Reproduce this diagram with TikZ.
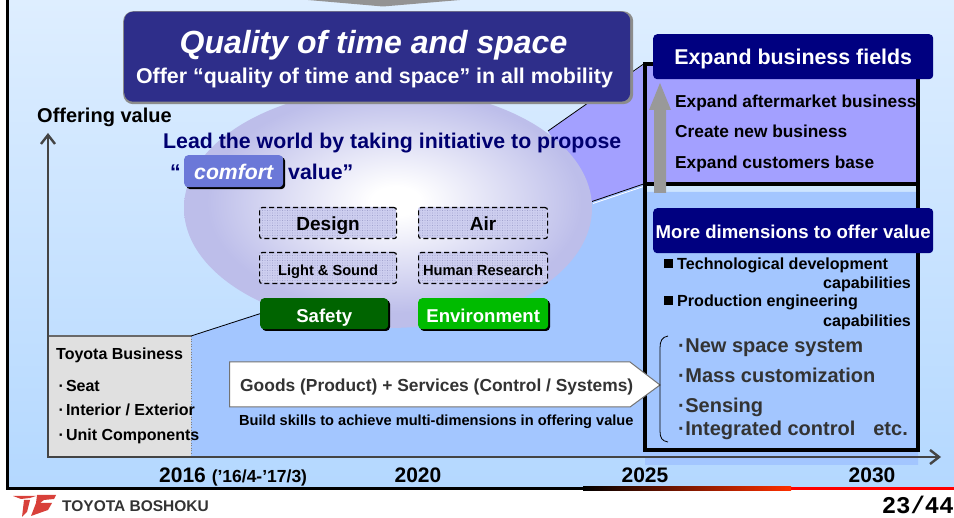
\documentclass[tikz,border=0pt]{standalone}
\usepackage{fontspec}
\setmainfont{Liberation Sans}
\newfontfamily\monof{Liberation Mono}
\usetikzlibrary{arrows.meta,patterns.meta,calc}
\definecolor{bgtop}{HTML}{DEEEFF}
\definecolor{bgbot}{HTML}{B4D8FF}
\definecolor{zoneblue}{HTML}{A3C6FF}
\definecolor{zonepurple}{HTML}{A3A0FF}
\definecolor{ell}{HTML}{BDBEEA}
\definecolor{mainbox}{HTML}{2E2E8A}
\definecolor{navy}{HTML}{000080}
\definecolor{lead}{HTML}{000070}
\definecolor{comf}{HTML}{6B78D8}
\definecolor{dark}{HTML}{006400}
\definecolor{bright}{HTML}{00BB00}
\definecolor{grayish}{HTML}{333333}
\definecolor{axisc}{HTML}{444444}
\definecolor{tbfill}{HTML}{E0E0E0}
\definecolor{logored}{HTML}{D8403A}
\definecolor{endred}{HTML}{FF3000}
\pgfdeclareradialshading{ellshade}{\pgfpoint{1bp}{1.5bp}}{color(0bp)=(white); color(3bp)=(white); color(23bp)=(ell); color(100bp)=(ell)}
\newcommand{\fs}[1]{\fontsize{#1}{#1}\selectfont\bfseries}
\tikzset{
  lbl/.style={inner sep=0pt,anchor=base west,text=black},
  hdrbox/.style={fill=navy,rounded corners=4pt,text=white,minimum width=280pt,minimum height=45pt,inner sep=0pt,anchor=north west,text height=15pt,text depth=0pt},
  greenbox/.style={rounded corners=4pt,text=white,minimum height=31pt,minimum width=128pt,inner sep=0pt,anchor=north west,text height=17pt,text depth=0pt,node font=\fs{18.6}},
  axisline/.style={draw=axisc,line width=2.4pt,-{Straight Barb[length=9pt,width=14pt]}},
  thin1/.style={draw=black,line width=0.8pt},
  yeartxt/.style={inner sep=0pt,anchor=base,node font=\fs{21}},
  itemtxt/.style={lbl,text=grayish,node font=\fs{20}},
  captxt/.style={lbl,node font=\fs{16.1}},
}
\begin{document}
\begin{tikzpicture}[x=1pt,y=-1pt]
\useasboundingbox (0,0) rectangle (954,518);
% background
\shade[top color=bgtop,bottom color=bgbot] (9,0) rectangle (954,487);
\fill[black] (6,0) rectangle (9,490);
% footer lines
\fill[black] (9,487) rectangle (583,490);
\shade[left color=black,right color=endred] (583,487) rectangle (791,491);
\fill[red] (791,487) rectangle (954,490);
% top arrow
\fill[gray!85] (308,0) -- (460,0) -- (383,6.5) -- cycle;
% zones
\fill[zoneblue] (191,336) -- (260,313) -- (592,202) -- (645,184) -- (645,192) -- (918,192) -- (918,465) -- (645,465) -- (645,456) -- (191,456) -- cycle;
\fill[zonepurple] (548,131) -- (645,64) -- (918,64) -- (918,184) -- (645,184) -- (592,202) -- cycle;
\draw[white,line width=0.8pt] (593,203.5) -- (645,186);
\draw[thin1] (592,201.5) -- (645,183.5);
\draw[thin1] (548,131) -- (645,63);
% ellipse
\shade[shading=ellshade] (388,208) ellipse [x radius=204,y radius=120];
% toyota business
\fill[tbfill] (48,336) rectangle (191,456);
\draw[gray,line width=0.6pt,dotted] (191,336) -- (191,456);
\draw[draw=axisc!80,line width=1.2pt] (48,336) -- (191,336);
% axes
\coordinate (orig) at (47,457);
\coordinate (ytip) at (48,133);
\coordinate (xtip) at (941,457);
\draw[axisline] (48,458) -- (ytip);
\draw[axisline] (orig) -- (xtip);
% frame
\draw[black,line width=4pt] (645,64) rectangle (918,450);
\draw[black,line width=4pt] (645,184.5) -- (920,184.5);
% gray arrow
\fill[gray!80] (654,193) -- (654,110) -- (649,110) -- (660,83) -- (671,110) -- (666,110) -- (666,193) -- cycle;
% main box
\node[fill=gray!90,rounded corners=10pt,minimum width=510pt,minimum height=93pt,anchor=north west,inner sep=0pt] (mainshadow) at (123,11) {};
\node[fill=mainbox,rounded corners=9pt,minimum width=506pt,minimum height=90pt,anchor=north west,inner sep=0pt] (main) at (124,11.5) {};
\node[inner sep=0pt,anchor=base,text=white,node font=\fontsize{32}{32}\selectfont\bfseries\itshape] (t1) at (373.5,54) {Quality of time and space};
\node[inner sep=0pt,anchor=base,text=white,node font=\fs{21.4}] (t2) at (374.5,84) {Offer “quality of time and space” in all mobility};
% labels
\node[lbl,node font=\fs{20}] (ov) at (37,123) {Offering value};
\node[lbl,text=lead,node font=\fs{21.3}] (lead1) at (163,149) {Lead the world by taking initiative to propose};
\node[lbl,text=lead,node font=\fs{21.3}] (q1) at (170,180) {“};
\node[fill=black,rounded corners=4pt,minimum width=99pt,minimum height=32pt,anchor=north west,inner sep=0pt] (comfs) at (186,157) {};
\node[fill=comf,rounded corners=4pt,minimum width=99pt,minimum height=32pt,anchor=north west,inner sep=0pt,text=white,text height=17pt,text depth=0pt,node font=\fontsize{21.2}{21.2}\selectfont\bfseries\itshape] (comf) at (184,155) {comfort};
\node[lbl,text=lead,node font=\fs{21.3}] (val) at (288,180) {value”};
% dashed boxes
\foreach \nm/\x/\y/\w/\txt/\sz in {design/259/207/137/Design/19,air/418/207/129/Air/19,light/259/252/137/Light \& Sound/14.6,human/418/252/129/Human Research/14.7}{
  \fill[fill=ell!75!white,rounded corners=2.5pt] (\x,\y) rectangle ++(\w,31);
  \fill[pattern={Dots[distance=2.5pt,radius=0.45pt]},pattern color=lead!45,rounded corners=2.5pt] (\x,\y) rectangle ++(\w,31);
  \node[draw=black,line width=1.2pt,dash pattern=on 5pt off 3pt,rounded corners=2.5pt,minimum height=31pt,minimum width=\w pt,inner sep=0pt,anchor=north west,text height=14pt,text depth=0pt,node font=\fs{\sz}] (\nm) at (\x,\y) {\txt};
}
% green boxes
\fill[black,rounded corners=4pt] (262,300) rectangle ++(128,31);
\fill[black,rounded corners=4pt] (420,300) rectangle ++(130,31);
\node[greenbox,fill=dark] (safety) at (260,298) {Safety};
\node[greenbox,fill=bright,minimum width=130pt] (env) at (418,298) {Environment};
\coordinate (tbcorner) at (191,336);
\draw[thin1] (tbcorner) -- (safety.west);
% toyota business text
\node[lbl,node font=\fs{16}] (tb) at (56,360) {Toyota Business};
\node[lbl,node font=\fs{16}] (tb1) at (58.5,392) {·\hspace{2pt}Seat};
\node[lbl,node font=\fs{16}] (tb2) at (58.5,416) {·\hspace{2pt}Interior / Exterior};
\node[lbl,node font=\fs{16}] (tb3) at (58.5,441) {·\hspace{2pt}Unit Components};
% goods arrow
\draw[fill=white,draw=gray!90!black,line width=1pt] (229.5,362) -- (630,362) -- (660,385) -- (630,407) -- (229.5,407) -- cycle;
\node[lbl,text=grayish,node font=\fs{17.4}] (goods) at (240,392) {Goods (Product) + Services (Control / Systems)};
\node[lbl,node font=\fs{14.6}] (skills) at (239,426) {Build skills to achieve multi-dimensions in offering value};
% right column
\node[hdrbox] (h1) at (653,34) {\fs{21.4}Expand business fields};
\node[hdrbox] (h2) at (653,208) {\fs{18.6}More dimensions to offer value};
\node[lbl,node font=\fs{17.3}] (r1) at (675,108) {Expand aftermarket business};
\node[lbl,node font=\fs{17.3}] (r2) at (675,138) {Create new business};
\node[lbl,node font=\fs{17.3}] (r3) at (675,169) {Expand customers base};
\fill[black] (664,259) rectangle (673,268);
\fill[black] (664,296) rectangle (673,305);
\node[captxt] (c1) at (677,270) {Technological development};
\node[captxt] (c2) at (823,289) {capabilities};
\node[captxt] (c3) at (677,307) {Production engineering};
\node[captxt] (c4) at (823,327) {capabilities};
\draw[black,line width=0.8pt] (668,336) .. controls (662,337) and (660,341) .. (660,348) -- (660,431) .. controls (660,438) and (662,441) .. (668,442);
\node[itemtxt] (i1) at (678,353) {·\hspace{0.5pt}New space system};
\node[itemtxt] (i2) at (678,383) {·\hspace{0.5pt}Mass customization};
\node[itemtxt] (i3) at (678,413) {·\hspace{0.5pt}Sensing};
\node[itemtxt] (i4) at (678,436) {·\hspace{0.5pt}Integrated control\hspace{18pt}etc.};
% years
\node[lbl,node font=\fs{21}] (y16) at (159,483) {2016 \fs{17.5}(’16/4-’17/3)};
\node[yeartxt] (y20) at (418,483) {2020};
\node[yeartxt] (y25) at (645,483) {2025};
\node[yeartxt] (y30) at (872,483) {2030};
% footer
\fill[logored] (13,496) -- (36,496) -- (30,498) -- (21,499) -- cycle;
\fill[logored] (37,495) -- (56,495) -- (54,499) -- (44,500) -- (40,503) -- (52,503) -- (48,510) -- (31,516) -- (36,503) -- cycle;
\fill[logored] (24,500) -- (30,500) -- (27,512) -- (22,517) -- cycle;
\node[lbl,text=grayish,node font=\fs{15.5}] (brand) at (62,512) {TOYOTA BOSHOKU};
\node[inner sep=0pt,anchor=base east,node font=\monof\fontsize{24}{24}\selectfont\bfseries] (page) at (954,514) {23/44};
\end{tikzpicture}
\end{document}
